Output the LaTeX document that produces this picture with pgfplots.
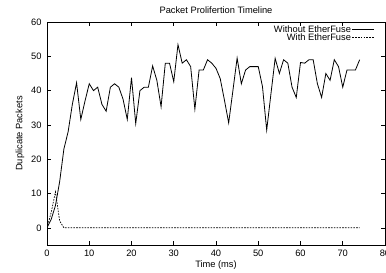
\documentclass[border=0pt]{standalone}
\usepackage{pgfplots}
\pgfplotsset{compat=1.18}
\usepackage{fontspec}
\setmainfont{Liberation Sans}
\begin{document}
\begin{tikzpicture}[font=\fontsize{9.3}{11}\selectfont]
\begin{axis}[
  width=338pt, height=223pt, scale only axis,
  xmin=0, xmax=80, ymin=-5, ymax=60,
  xtick={0,10,...,80}, ytick={0,10,...,60},
  /pgf/number format/assume math mode=true,
  tick style={black, line width=0.6pt},
  major tick length=4pt,
  axis line style={line width=0.8pt},
  yticklabel style={xshift=-2pt},
  xticklabel style={yshift=-1pt},
  title={Packet Prolifertion Timeline},
  every axis title shift=0pt,
  every axis title/.style={at={(axis description cs:0.5,1)}, anchor=center, yshift=12pt},
  xlabel={Time (ms)},
  ylabel={Duplicate Packets},
  every axis x label/.style={at={(axis description cs:0.5,0)}, anchor=center, yshift=-20pt},
  every axis y label/.style={at={(axis description cs:0,0.5)}, anchor=center, xshift=-27pt, rotate=90},
  legend style={draw=none, fill=none, at={(axis description cs:1,1)}, anchor=north east, xshift=-7pt, yshift=-1pt,
    nodes={inner sep=1pt, text height=6.2pt, text depth=0pt}, row sep=0.3pt},
  legend cell align=right,
  legend plot pos=right,
  legend image code/.code={\draw[#1] (0pt,0pt) -- (22pt,0pt);},
]
\addplot[black, line width=0.8pt] coordinates {
(0,0) (1,2.5) (2,6.5) (3,13.5) (4,23) (5,28) (6,36) (7,42.3) (8,31.6) (9,37)
(10,42) (11,40) (12,41) (13,36) (14,34) (15,41) (16,42) (17,41) (18,37.5) (19,31.6)
(20,43.8) (21,30.4) (22,40) (23,41) (24,41) (25,47.2) (26,43) (27,35.3) (28,48) (29,48)
(30,42.6) (31,53.4) (32,48) (33,49) (34,47) (35,34.6) (36,46) (37,46) (38,49) (39,48)
(40,46.5) (41,43.5) (42,37.2) (43,30.6) (44,40) (45,49.5) (46,42) (47,46) (48,47) (49,47)
(50,47) (51,41.2) (52,28.5) (53,39) (54,49.4) (55,45) (56,49) (57,48) (58,41) (59,38)
(60,48.2) (61,48) (62,49) (63,49) (64,42) (65,38) (66,45) (67,43) (68,49) (69,47)
(70,41) (71,46) (72,46) (73,46) (74,49)
};
\addlegendentry{Without EtherFuse}
\addplot[black, line width=0.7pt, dash pattern=on 1.6pt off 1.2pt] coordinates {
(0,0) (1,4.5) (2,10.5) (3,2) (4,0) (10,0) (20,0) (30,0) (40,0) (50,0) (60,0) (70,0) (74,0)
};
\addlegendentry{With EtherFuse}
\end{axis}
\path (current axis.south west) ++(-47pt,-27pt) coordinate (bl);
\path (current axis.north east) ++(1pt,22pt) coordinate (tr);
\pgfresetboundingbox
\useasboundingbox (bl) rectangle (tr);
\end{tikzpicture}
\end{document}
